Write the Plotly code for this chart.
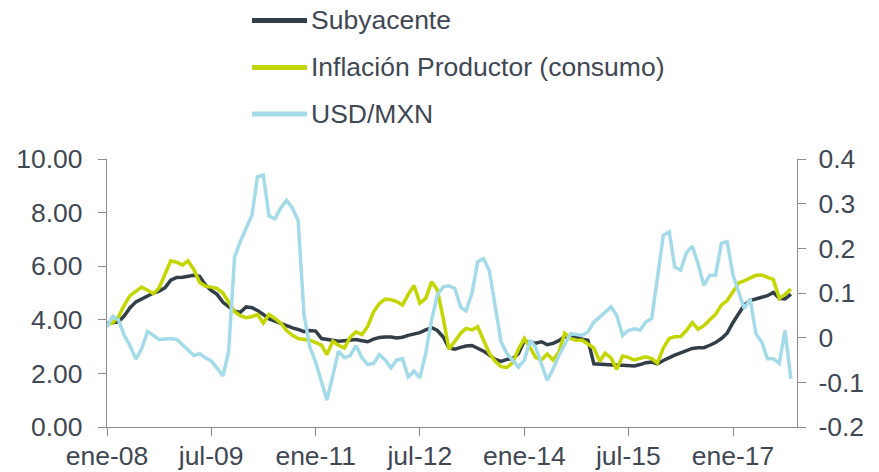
import pandas as pd
import plotly.graph_objects as go

# Monthly dates: ene-2008 .. nov-2017
fechas = pd.date_range("2008-01-01", periods=119, freq="MS")

subyacente = [
    3.86, 3.88, 3.92, 4.15, 4.45, 4.67, 4.78, 4.90, 5.00, 5.07,
    5.20, 5.48, 5.58, 5.59, 5.62, 5.66, 5.62, 5.30, 5.10, 4.95,
    4.65, 4.48, 4.32, 4.28, 4.48, 4.45, 4.35, 4.20, 4.03, 3.95,
    3.86, 3.77, 3.70, 3.64, 3.56, 3.60, 3.58, 3.30, 3.27, 3.24,
    3.20, 3.22, 3.24, 3.26, 3.22, 3.18, 3.28, 3.34, 3.36, 3.36,
    3.32, 3.35, 3.42, 3.47, 3.52, 3.62, 3.71, 3.60, 3.36, 2.95,
    2.90, 2.97, 3.02, 3.04, 2.95, 2.83, 2.68, 2.52, 2.45, 2.52,
    2.55, 2.74, 3.22, 3.15, 3.13, 3.18, 3.07, 3.12, 3.22, 3.38,
    3.37, 3.35, 3.28, 3.24, 2.36, 2.34, 2.34, 2.32, 2.30, 2.30,
    2.29, 2.28, 2.33, 2.40, 2.42, 2.36, 2.48, 2.60, 2.68, 2.77,
    2.85, 2.93, 2.96, 2.96, 3.05, 3.15, 3.30, 3.50, 3.90, 4.25,
    4.55, 4.72, 4.78, 4.83, 4.90, 5.02, 4.80, 4.78, 4.96,
]

inflacion_productor = [
    3.80, 3.90, 4.10, 4.55, 4.90, 5.05, 5.22, 5.10, 4.98, 5.20,
    5.70, 6.20, 6.15, 6.04, 6.20, 5.88, 5.40, 5.25, 5.22, 5.17,
    5.00, 4.65, 4.30, 4.15, 4.08, 4.12, 4.20, 3.88, 4.20, 4.05,
    3.88, 3.60, 3.42, 3.30, 3.26, 3.24, 3.15, 3.05, 2.70, 3.20,
    3.05, 2.95, 3.35, 3.55, 3.45, 3.75, 4.30, 4.60, 4.77, 4.75,
    4.68, 4.55, 4.95, 5.28, 4.62, 4.80, 5.42, 5.12, 4.05, 2.90,
    3.20, 3.50, 3.68, 3.62, 3.74, 3.25, 2.75, 2.45, 2.25, 2.22,
    2.40, 2.90, 3.30, 2.95, 2.60, 2.50, 2.72, 2.50, 2.80, 3.50,
    3.30, 3.24, 3.24, 3.10, 2.95, 2.45, 2.75, 2.58, 2.15, 2.65,
    2.60, 2.50, 2.56, 2.62, 2.55, 2.38, 2.95, 3.30, 3.37, 3.38,
    3.60, 3.90, 3.65, 3.78, 4.00, 4.20, 4.55, 4.72, 5.05, 5.38,
    5.45, 5.55, 5.66, 5.67, 5.60, 5.50, 4.80, 4.95, 5.15,
]

usd_mxn = [
    0.024, 0.048, 0.040, 0.005, -0.018, -0.048, -0.025, 0.014, 0.005, -0.004,
    -0.003, -0.002, -0.004, -0.015, -0.027, -0.040, -0.036, -0.045, -0.052, -0.068,
    -0.086, -0.030, 0.180, 0.215, 0.245, 0.275, 0.360, 0.364, 0.272, 0.266,
    0.290, 0.308, 0.290, 0.262, 0.050, -0.020, -0.055, -0.100, -0.140, -0.085,
    -0.030, -0.045, -0.040, -0.018, -0.045, -0.060, -0.058, -0.038, -0.050, -0.068,
    -0.050, -0.047, -0.088, -0.075, -0.090, -0.035, 0.040, 0.095, 0.114, 0.116,
    0.110, 0.068, 0.060, 0.100, 0.170, 0.177, 0.150, 0.070, -0.010, -0.035,
    -0.050, -0.066, -0.050, -0.006, -0.021, -0.058, -0.096, -0.070, -0.040, -0.015,
    0.009, 0.007, 0.005, 0.013, 0.035, 0.046, 0.058, 0.069, 0.050, 0.005,
    0.016, 0.020, 0.017, 0.035, 0.043, 0.130, 0.229, 0.237, 0.158, 0.151,
    0.190, 0.205, 0.166, 0.117, 0.140, 0.140, 0.211, 0.215, 0.140, 0.100,
    0.065, 0.087, 0.009, -0.010, -0.047, -0.047, -0.058, 0.016, -0.092,
]

x_tick_vals = ["2008-01-01", "2009-07-01", "2011-01-01", "2012-07-01",
               "2014-01-01", "2015-07-01", "2017-01-01"]
x_tick_text = ["ene-08", "jul-09", "ene-11", "jul-12", "ene-14", "jul-15", "ene-17"]

y1_tick_vals = [0, 2, 4, 6, 8, 10]
y1_tick_text = ["0.00", "2.00", "4.00", "6.00", "8.00", "10.00"]
y2_tick_vals = [-0.2, -0.1, 0, 0.1, 0.2, 0.3, 0.4]
y2_tick_text = ["-0.2", "-0.1", "0", "0.1", "0.2", "0.3", "0.4"]

nombres = ["Subyacente", "Inflación Productor (consumo)", "USD/MXN"]
colores = ["#333f48", "#c4d600", "#a4dbe8"]

TEXT = "#3f4853"
AXIS = "#8c8c8c"
FONT = "Liberation Sans, Arial, sans-serif"
FS = 26.5

# body margin is removed by post_script, so the figure fills the window
W, H = 879, 472
L, R, T, B = 107, 82, 159, 45
pw, ph = W - L - R, H - T - B

def px_x(px):
    return (px - L) / pw

def px_y(py):
    return (H - B - py) / ph

fig = go.Figure()
fig.add_trace(go.Scatter(x=fechas, y=subyacente, mode="lines", name=nombres[0],
                         line=dict(color=colores[0], width=3.5), yaxis="y"))
fig.add_trace(go.Scatter(x=fechas, y=inflacion_productor, mode="lines", name=nombres[1],
                         line=dict(color=colores[1], width=3.5), yaxis="y"))
fig.add_trace(go.Scatter(x=fechas, y=usd_mxn, mode="lines", name=nombres[2],
                         line=dict(color=colores[2], width=3.5), yaxis="y2"))

# Manual legend (stacked rows at top)
rows_y = [20.5, 67.5, 114]
shapes = []
annotations = []
for nm, col, ry in zip(nombres, colores, rows_y):
    shapes.append(dict(type="line", xref="paper", yref="paper",
                       x0=px_x(252), x1=px_x(307), y0=px_y(ry), y1=px_y(ry),
                       line=dict(color=col, width=5)))
    annotations.append(dict(xref="paper", yref="paper", x=px_x(309), y=px_y(ry),
                            text=nm, showarrow=False, xanchor="left", yanchor="middle",
                            font=dict(family=FONT, size=FS, color=TEXT)))

axis_common = dict(
    showgrid=False, zeroline=False, automargin=False,
    showline=True, linecolor=AXIS, linewidth=1.3,
    ticks="outside", ticklen=8, tickcolor=AXIS, tickwidth=1.3,
    tickfont=dict(family=FONT, size=FS, color=TEXT),
)

fig.update_layout(
    width=W, height=H,
    margin=dict(l=L, r=R, t=T, b=B, pad=0, autoexpand=False),
    paper_bgcolor="white", plot_bgcolor="white",
    showlegend=False,
    font=dict(family=FONT, size=FS, color=TEXT),
    shapes=shapes, annotations=annotations,
    xaxis=dict(range=["2008-01-01", "2017-12-03"], ticklabelstandoff=-3,
               tickvals=x_tick_vals, ticktext=x_tick_text, **axis_common),
    yaxis=dict(range=[0, 10], ticklabelstandoff=10,
               tickvals=y1_tick_vals, ticktext=y1_tick_text, **axis_common),
    yaxis2=dict(range=[-0.2, 0.4], overlaying="y", side="right", ticklabelstandoff=7,
                tickvals=y2_tick_vals, ticktext=y2_tick_text, **axis_common),
)

fig.write_html("out.html",
               config={"displayModeBar": False},
               post_script="document.body.style.margin='0';"
                           "document.body.style.overflow='hidden';")
